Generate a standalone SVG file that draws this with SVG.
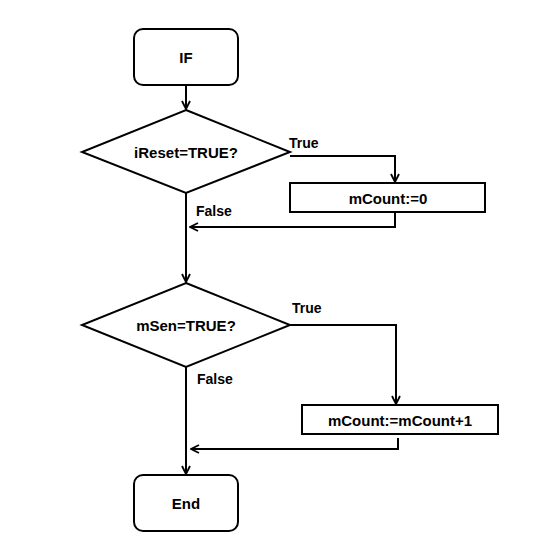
<svg xmlns="http://www.w3.org/2000/svg" width="554" height="538" viewBox="0 0 554 538">
<defs>
<style>
.shape{fill:#fff;stroke:#000;stroke-width:2}
.t{font-family:"Liberation Sans",Arial,sans-serif;font-weight:bold;font-size:15px;fill:#000;text-anchor:middle;dominant-baseline:central}
.lbl{font-family:"Liberation Sans",Arial,sans-serif;font-weight:bold;font-size:14px;fill:#000}
.c{fill:none;stroke:#000;stroke-width:2}
</style>
<marker id="arr" viewBox="0 0 10 10" refX="9" refY="5" markerWidth="10" markerHeight="10" markerUnits="userSpaceOnUse" orient="auto">
<path d="M1,1 L9,5 L1,9" fill="none" stroke="#000" stroke-width="1.8"/>
</marker>
</defs>
<rect width="554" height="538" fill="#fff"/>
<g id="connectors">
<path class="c" d="M186,85 V109" marker-end="url(#arr)"/>
<path class="c" d="M290,156 H395 V182" marker-end="url(#arr)"/>
<path class="c" d="M395,213 V227 H190" marker-end="url(#arr)"/>
<path class="c" d="M186,193 V282" marker-end="url(#arr)"/>
<path class="c" d="M290,325 H396 V404" marker-end="url(#arr)"/>
<path class="c" d="M398,438 V449 H191" marker-end="url(#arr)"/>
<path class="c" d="M186,367 V474" marker-end="url(#arr)"/>
<text class="lbl" x="289" y="148">True</text>
<text class="lbl" x="196" y="216">False</text>
<text class="lbl" x="292" y="313">True</text>
<text class="lbl" x="197" y="384">False</text>
</g>
<g id="start">
<rect class="shape" x="134" y="29" width="104" height="56" rx="9"/>
<text class="t" x="186" y="57">IF</text>
</g>
<g id="cond1">
<polygon class="shape" points="186,110 290,152 186,193 82,152"/>
<text class="t" x="186" y="152">iReset=TRUE?</text>
</g>
<g id="reset">
<rect class="shape" x="290" y="183" width="195" height="29"/>
<text class="t" x="388" y="198">mCount:=0</text>
</g>
<g id="cond2">
<polygon class="shape" points="186,283 290,325 186,367 82,325"/>
<text class="t" x="186" y="325">mSen=TRUE?</text>
</g>
<g id="inc">
<rect class="shape" x="302" y="405" width="196" height="29"/>
<text class="t" x="400" y="420">mCount:=mCount+1</text>
</g>
<g id="end">
<rect class="shape" x="134" y="475" width="104" height="56" rx="9"/>
<text class="t" x="186" y="503">End</text>
</g>
</svg>
